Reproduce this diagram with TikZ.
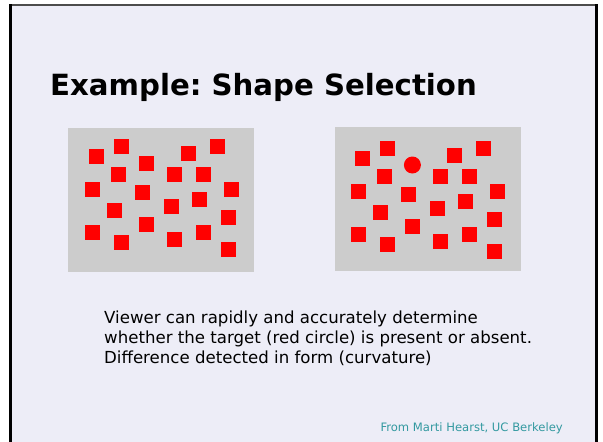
\documentclass[tikz,border=0pt]{standalone}
\usepackage{fontspec}
\setmainfont{DejaVu Sans}
\usetikzlibrary{positioning}
\definecolor{slidebg}{RGB}{237,237,247}
\definecolor{panelgray}{RGB}{204,204,204}
\definecolor{creditteal}{RGB}{51,153,160}
\frenchspacing
\tikzset{
  panel/.style={fill=panelgray, draw=none, inner sep=0pt, minimum width=186pt, minimum height=144pt},
  target/.style={fill=red, draw=none, inner sep=0pt},
  sq/.style={target, rectangle, minimum size=15pt},
  circ/.style={target, circle, minimum size=17pt}
}
\begin{document}
\begin{tikzpicture}[x=1pt, y=-1pt]
  \useasboundingbox (0,0) rectangle (603,442);
  % Sfondo della slide
  \fill[white] (0,0) rectangle (603,442);
  \fill[slidebg] (10,5) rectangle (597,442);
  \draw[black!70, line width=2pt] (9,5) -- (598,5);
  \draw[black, line width=3pt] (10.5,442) -- (10.5,4);
  \draw[black, line width=3pt] (596.5,442) -- (596.5,4);

  % Titolo
  \node[anchor=base west, inner sep=0pt, font=\fontsize{29.2}{34}\selectfont\bfseries] (title) at (50,95) {Example: Shape Selection};

  % Pannelli
  \node[panel, anchor=north west] (left) at (68,128) {};
  \node[panel, right=80pt of left, yshift=1pt] (right) {};

  % Quadrati a sinistra
  \begin{scope}[shift={(left.north west)}]
    \foreach \x/\y [count=\i] in {28/28, 53/18, 78/35, 50/46, 24/61, 74/64, 46/82, 24/104, 53/114, 78/96,
      120/25, 149/18, 106/46, 135/46, 163/61, 103/78, 131/71, 160/89, 135/104, 106/111, 160/121}
      \node[sq] (l\i) at (\x,\y) {};
  \end{scope}

  % Quadrati a destra, con il cerchio
  \begin{scope}[shift={(right.north west)}, yshift=-3pt]
    \foreach \x/\y [count=\i] in {28/28, 53/18, 50/46, 24/61, 74/64, 46/82, 24/104, 53/114, 78/96,
      120/25, 149/18, 106/46, 135/46, 163/61, 103/78, 131/71, 160/89, 135/104, 106/111, 160/121}
      \node[sq] (r\i) at (\x,\y) {};
    \node[circ] (odd) at (78,35) {};
  \end{scope}

  % Testo
  \node[anchor=base west, inner sep=0pt, align=left, font=\fontsize{16.6}{20}\selectfont] (caption) at (104,363)
    {Viewer can rapidly and accurately determine\\whether the target (red circle) is present or absent.\\Difference detected in form (curvature)};
  \node[anchor=base east, inner sep=0pt, text=creditteal, font=\fontsize{11.6}{13}\selectfont] (credit) at (563,431)
    {From Marti Hearst, UC Berkeley};
\end{tikzpicture}
\end{document}
